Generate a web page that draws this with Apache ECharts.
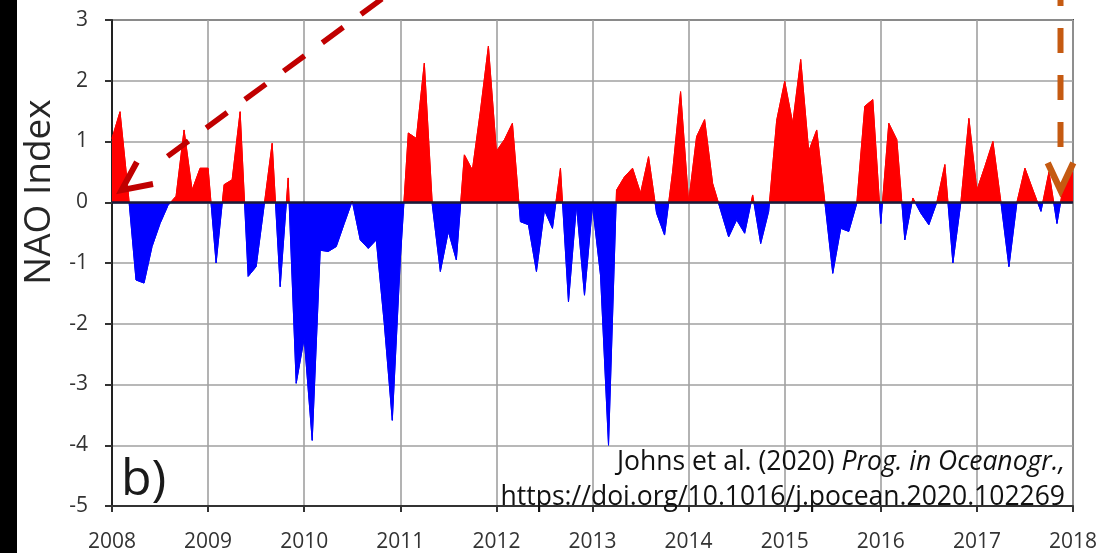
<!DOCTYPE html>
<html>
<head>
<meta charset="utf-8">
<script src="https://cdn.jsdelivr.net/npm/echarts@6/dist/echarts.min.js"></script>
<style>
  html, body { margin: 0; padding: 0; background: #ffffff; }
  #chart { width: 1104px; height: 553px; }
</style>
</head>
<body>
<div id="chart"></div>
<script>
// Monthly NAO index values, January to December of each year
const nao2008 = [1.05, 1.49, 0.2, -1.28, -1.33, -0.73, -0.35, -0.05, 0.1, 1.19, 0.2, 0.56];
const nao2009 = [0.56, -1.0, 0.29, 0.37, 1.49, -1.22, -1.06, -0.05, 0.97, -1.39, 0.4, -2.98];
const nao2010 = [-2.24, -3.92, -0.79, -0.81, -0.73, -0.35, 0.02, -0.62, -0.76, -0.62, -2.0, -3.59];
const nao2011 = [-0.95, 1.14, 1.05, 2.29, -0.05, -1.14, -0.48, -0.95, 0.78, 0.53, 1.5, 2.57];
const nao2012 = [0.84, 1.03, 1.30, -0.32, -0.37, -1.14, -0.13, -0.43, 0.56, -1.64, -0.05, -1.53];
const nao2013 = [-0.05, -1.2, -4.0, 0.2, 0.42, 0.56, 0.15, 0.75, -0.18, -0.54, 0.5, 1.82];
const nao2014 = [0.0, 1.08, 1.36, 0.31, -0.13, -0.57, -0.29, -0.51, 0.12, -0.68, -0.15, 1.35];
const nao2015 = [1.99, 1.30, 2.35, 0.84, 1.19, 0.02, -1.17, -0.43, -0.48, -0.02, 1.58, 1.69];
const nao2016 = [-0.35, 1.30, 1.03, -0.62, 0.07, -0.18, -0.37, 0.0, 0.62, -1.0, 0.0, 1.38];
const nao2017 = [0.2, 0.59, 1.0, 0.0, -1.06, 0.0, 0.56, 0.2, -0.15, 0.5, -0.35, 0.42];
const nao2018 = [0.5];

const startYear = 2008;
const xTickLabels = ['2008', '2009', '2010', '2011', '2012', '2013', '2014', '2015', '2016', '2017', '2018'];
const yTickLabels = ['-5', '-4', '-3', '-2', '-1', '0', '1', '2', '3'];

const monthly = [].concat(nao2008, nao2009, nao2010, nao2011, nao2012,
                          nao2013, nao2014, nao2015, nao2016, nao2017, nao2018);
const seriesData = monthly.map((v, i) => [startYear + i / 12, v]);

const POS_COLOR = '#ff0000';
const NEG_COLOR = '#0000ff';
const FONT = '"Open Sans", "Liberation Sans", sans-serif';
const chart = echarts.init(document.getElementById('chart'), null, { renderer: 'canvas' });

chart.setOption({
  animation: false,
  backgroundColor: '#ffffff',
  grid: {
    left: 112, right: 31, top: 20, bottom: 47,
    show: true, borderColor: '#4a4a4a', borderWidth: 2, backgroundColor: 'transparent'
  },
  xAxis: {
    type: 'value', min: 2008, max: 2018, interval: 1,
    axisLine: { show: true, onZero: false, lineStyle: { color: '#333333', width: 2 } },
    axisTick: { show: true, inside: false, length: 6, lineStyle: { color: '#333333', width: 2 } },
    splitLine: { show: true, lineStyle: { color: '#a0a0a0', width: 1.6 } },
    axisLabel: {
      margin: 26, color: '#333333', fontSize: 21, fontFamily: FONT,
      formatter: v => xTickLabels[Math.round(v - startYear)] || ''
    }
  },
  yAxis: {
    type: 'value', min: -5, max: 3, interval: 1,
    axisLine: { show: true, onZero: false, lineStyle: { color: '#222222', width: 2 } },
    axisTick: { show: true, inside: false, length: 7, lineStyle: { color: '#333333', width: 2 } },
    splitLine: { show: true, lineStyle: { color: '#a0a0a0', width: 1.6 } },
    axisLabel: {
      margin: 24, color: '#333333', fontSize: 21, fontFamily: FONT,
      formatter: v => yTickLabels[Math.round(v + 5)] || ''
    }
  },
  series: [{
    id: 'nao',
    type: 'line',
    data: seriesData,
    showSymbol: false,
    smooth: false,
    lineStyle: { width: 1, color: POS_COLOR },
    areaStyle: { opacity: 1, origin: 0, color: POS_COLOR },
    markLine: {
      silent: true, symbol: 'none', label: { show: false },
      lineStyle: { color: '#1a1a3a', width: 2.5, type: 'solid' },
      data: [{ yAxis: 0 }]
    },
    z: 3
  }]
});

function px(x, y) { return chart.convertToPixel({ xAxisIndex: 0, yAxisIndex: 0 }, [x, y]); }

// Split colour at the zero line: red above, blue below
const zeroY = px(startYear, 0)[1];
function splitFill() {
  return new echarts.graphic.LinearGradient(0, zeroY - 1, 0, zeroY + 1, [
    { offset: 0, color: POS_COLOR },
    { offset: 0.5, color: POS_COLOR },
    { offset: 0.5, color: NEG_COLOR },
    { offset: 1, color: NEG_COLOR }
  ], true);
}

// Annotation arrows, anchored in data coordinates
function dashedArrow(tipData, tailData, color, width, dash, headLen, gapFromTip) {
  const tip = px(tipData[0], tipData[1]);
  const tail = px(tailData[0], tailData[1]);
  const dx = tail[0] - tip[0], dy = tail[1] - tip[1];
  const len = Math.hypot(dx, dy);
  const ux = dx / len, uy = dy / len;
  const ang = Math.atan2(uy, ux);
  const spread = 0.44;
  const a1 = [tip[0] + headLen * Math.cos(ang + spread), tip[1] + headLen * Math.sin(ang + spread)];
  const a2 = [tip[0] + headLen * Math.cos(ang - spread), tip[1] + headLen * Math.sin(ang - spread)];
  return [
    {
      type: 'line', z: 100,
      shape: { x1: tip[0] + gapFromTip * ux, y1: tip[1] + gapFromTip * uy, x2: tail[0], y2: tail[1] },
      style: { stroke: color, lineWidth: width, lineDash: dash }
    },
    {
      type: 'polyline', z: 100,
      shape: { points: [a1, tip, a2] },
      style: { stroke: color, lineWidth: width + 0.5, fill: null, lineJoin: 'miter' }
    }
  ];
}

const graphics = [
  // dark strip along the left edge
  { type: 'rect', z: 200, shape: { x: 0, y: 0, width: 17, height: 553 }, style: { fill: '#000000' } },
  {
    type: 'text', z: 50, x: 39, y: 192, rotation: Math.PI / 2,
    style: { text: 'NAO Index', font: '37px ' + FONT, fill: '#262626', textAlign: 'center', textVerticalAlign: 'middle' }
  },
  {
    type: 'text', z: 50, x: 121, y: 506,
    style: { text: 'b)', font: '50px ' + FONT, fill: '#1a1a1a', textAlign: 'left', textVerticalAlign: 'bottom' }
  },
  {
    type: 'text', z: 50, x: 1065, y: 476,
    style: {
      text: '{n|Johns et al. (2020) }{i|Prog. in Oceanogr.,}',
      textAlign: 'right', textVerticalAlign: 'bottom',
      rich: {
        n: { font: '26.5px ' + FONT, fill: '#111111' },
        i: { font: 'italic 26.5px ' + FONT, fill: '#111111' }
      }
    }
  },
  {
    type: 'text', z: 50, x: 1065, y: 511,
    style: { text: 'https://doi.org/10.1016/j.pocean.2020.102269', font: '26.5px ' + FONT, fill: '#111111', textAlign: 'right', textVerticalAlign: 'bottom' }
  }
]
  .concat(dashedArrow([2008.10, 0.2], [2010.82, 3.36], '#c00000', 5.5, [26, 22], 32, 57))
  .concat(dashedArrow([2017.87, 0.2], [2017.87, 3.6], '#c55a11', 6, [25, 22], 30, 43));

chart.setOption({
  series: [{ id: 'nao', lineStyle: { color: splitFill() }, areaStyle: { color: splitFill() } }],
  graphic: graphics
});
</script>
</body>
</html>
